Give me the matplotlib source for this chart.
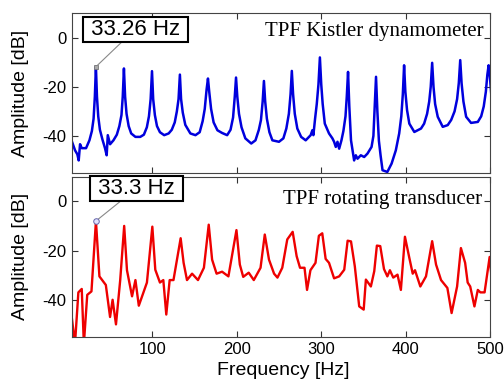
import matplotlib
matplotlib.use("Agg")
import matplotlib.pyplot as plt

plt.rcParams['font.family'] = ['Liberation Sans', 'DejaVu Sans']
plt.rcParams['axes.unicode_minus'] = False

# Top: TPF Kistler dynamometer (blue) -- values read peak by peak
kistler_freq = [
    5, 8.6, 11.3, 12.9, 14.5, 16.5, 21.6, 25.6, 28.5, 30.5, 32, 33.26, 34.5, 36, 38, 41, 44, 46, 47.3, 50, 54, 58,
    61, 63.5, 65, 66.4, 67.8, 69.5, 72, 75, 80, 85.7, 90,
    93.5, 96, 98, 99.6, 101, 103, 105.5, 109, 114, 119.3, 123,
    126.5, 129, 131, 132.6, 134, 136, 139, 145, 151, 156,
    159.5, 162, 164.2, 165.8, 167.3, 169.5, 172.5, 177, 182.5, 188.5,
    192.5, 195.5, 197.5, 199, 200.5, 202.5, 205.5, 210, 217, 222,
    226, 228.5, 230.5, 232, 233.5, 235.5, 238.5, 242, 249.8, 255,
    258.5, 261.5, 263.5, 265, 266.5, 268.5, 271.5, 276, 281.4, 287.3, 289.3, 290.5,
    292.5, 294.5, 296.5, 298.2, 299.8, 301.5, 304, 309, 313, 315, 317, 319, 321, 323.7,
    326, 328.5, 330, 331.5, 333, 335, 338.7, 340.7, 342.7, 346.6, 350.6, 354.5, 359.3, 361.5,
    363, 364.6, 366.2, 368, 370, 372.3, 378, 383, 388, 392, 394.5, 396.3,
    397.8, 399.3, 401.3, 404, 409.9, 417.8, 421.5, 425, 427.5, 429.3,
    431, 432.6, 434.5, 437.6, 443.5, 449.4, 453.5, 457.5, 460.5, 462.5,
    464.2, 465.8, 468, 471.2, 477, 485, 489, 492, 494.5, 496.3,
    497.8, 499.3, 501.6]
kistler_amp = [
    -42.4, -45.9, -47.5, -50, -43.4, -45, -45, -41.8, -38, -33, -24, -11.8, -24, -32, -37.5, -41.5, -45, -47.9, -39.7, -43.4, -41.8, -39.5,
    -36, -31.5, -24, -12.5, -24, -31, -36, -39, -40.4, -40.4, -39.5,
    -36.5, -32, -25, -13.6, -25, -31.5, -36, -38.5, -39.7, -39, -37.5,
    -34.5, -30, -25, -15, -25, -30.5, -35.5, -39, -39.7, -38.5,
    -34, -29, -21, -16.6, -22, -29, -34.5, -37.7, -38.8, -39.7,
    -37.5, -32.5, -24, -16.2, -24, -31, -36.5, -41, -43.1, -41.8,
    -37.5, -33.5, -26, -17.6, -26, -33, -38.5, -41.8, -42.4, -41,
    -37, -31, -23, -13.5, -23, -31, -37, -40.4, -41.8, -39.7, -37.7, -39.7,
    -33, -27, -19, -8, -19, -27, -35, -39, -41, -42.4, -44.5, -42.4, -45.2, -41.8,
    -38, -32, -24, -13.9, -28, -41.8, -50, -47.9, -49.3, -47.9, -48.6, -47.2, -44.5, -40,
    -28, -15.9, -30, -42, -48, -54, -54.7, -51.3, -45.9, -39, -32, -23,
    -11.2, -22, -29.5, -35, -38.4, -37, -35, -31, -26, -20,
    -10.2, -20, -27, -32.2, -36.3, -35.6, -33.5, -30, -25, -18.5,
    -9.1, -18.5, -26, -32.2, -34.7, -34.3, -32, -28, -22, -15,
    -11.2, -16, -26]

# Bottom: TPF rotating transducer (red)
rot_freq = [5, 8.5, 12.5, 16.5, 19, 23, 28, 33.3, 37.4, 45, 50, 53, 57, 62, 66.7, 70, 76, 80, 84, 93.6, 100,
            103.5, 109, 113, 116.5, 120.5, 125, 133.5, 137, 141, 147, 154, 161, 166.7, 170.7, 176, 182.5,
            190, 199.5, 203.5, 207.5, 214, 220, 228, 233, 238, 244, 248, 253.7, 259.6, 266, 270.7, 274.7,
            280, 283, 287, 293, 297, 301, 305, 309, 315, 321, 327, 331, 335, 339.5, 344.7, 350, 352.6,
            358.5, 362.5, 365.6, 369.6, 374, 378, 381, 385, 390, 394, 398.8, 404, 408, 410.7, 417, 423.7,
            431, 435.6, 441.5, 449, 454, 460.5, 465, 470, 473, 476, 481, 485, 488, 493, 499, 501.6]
rot_amp = [-48, -58, -37, -35.6, -58, -38, -36.6, -8, -30.5, -34, -47, -40, -50, -32, -10, -28, -38.6, -32,
           -42.4, -33, -10.3, -27.8, -33, -32, -46, -32, -32, -15, -25, -32, -29.4, -32, -27, -9.5, -23.7,
           -29.4, -28.6, -30.5, -11.7, -25.7, -30.7, -29, -32, -27, -13.5, -23.7, -29.4, -31, -27, -15.5,
           -12.4, -22.3, -27, -27, -36, -28, -25, -14, -13, -23.4, -25, -31.3, -30.5, -27.8, -16, -16.3,
           -26.4, -42.7, -44, -31.8, -34.6, -28.4, -18, -18.2, -27.5, -30.5, -28, -31, -29.8, -36, -14.4,
           -23, -29.4, -28, -34.6, -30.5, -16.2, -25.7, -32, -35.2, -45.4, -34.6, -19, -25, -33, -34.6,
           -42.7, -36, -37, -37, -22.6, -32]

xticks = [100, 200, 300, 400, 500]
yticks = [0, -20, -40]

fig = plt.figure(figsize=(5.04, 3.84), dpi=100)
ax1 = fig.add_axes([0.1429, 0.5503, 0.8303, 0.4151])
ax2 = fig.add_axes([0.1429, 0.1232, 0.8303, 0.4167])

for ax in (ax1, ax2):
    ax.set_xlim(5, 500)
    ax.set_ylim(-55, 10)
    ax.set_xticks(xticks)
    ax.set_yticks(yticks)
    ax.tick_params(direction='in', top=True, right=True, length=4, width=0.8,
                   labelsize=12, pad=4, colors='#333333', labelcolor='black')
    for s in ax.spines.values():
        s.set_color('#444444')
        s.set_linewidth(0.8)
    ax.set_ylabel('Amplitude [dB]', fontsize=14)
    ax.yaxis.set_label_coords(-0.103, 0.5)

ax1.tick_params(labelbottom=False)

ax1.plot(kistler_freq, kistler_amp, color='#0000dd', lw=1.8, solid_joinstyle='round')
ax2.plot(rot_freq, rot_amp, color='#ee0000', lw=1.7, solid_joinstyle='round')

ax2.set_xlabel('Frequency [Hz]', fontsize=14)
ax2.xaxis.set_label_coords(0.504, -0.158)

ax1.text(0.984, 0.857, 'TPF Kistler dynamometer', transform=ax1.transAxes, ha='right',
         va='baseline', fontsize=15, family='Liberation Serif')
ax2.text(0.979, 0.829, 'TPF rotating transducer', transform=ax2.transAxes, ha='right',
         va='baseline', fontsize=15, family='Liberation Serif')

# annotations
ax1.plot([33.26], [-11.8], marker='s', ms=3, mfc='#aaaaaa', mec='#777777', mew=0.6)
ax1.annotate(' 33.26 Hz ', xy=(33.26, -11.8), xytext=(79.7, 3.5), ha='center', va='center',
             fontsize=16,
             bbox=dict(boxstyle='square,pad=0.08', fc='white', ec='black', lw=1.5),
             arrowprops=dict(arrowstyle='-', color='#888888', lw=0.8, shrinkA=0, shrinkB=1.5))
ax2.plot([33.3], [-8], marker='o', ms=4, mfc='#e0e0ff', mec='#6666aa', mew=0.7, zorder=5)
ax2.annotate(' 33.3 Hz ', xy=(33.3, -8), xytext=(81.4, 5.3), ha='center', va='center',
             fontsize=16,
             bbox=dict(boxstyle='square,pad=0.08', fc='white', ec='black', lw=1.5),
             arrowprops=dict(arrowstyle='-', color='#888888', lw=0.8, shrinkA=0, shrinkB=2))

fig.savefig('out.png', dpi=100)
